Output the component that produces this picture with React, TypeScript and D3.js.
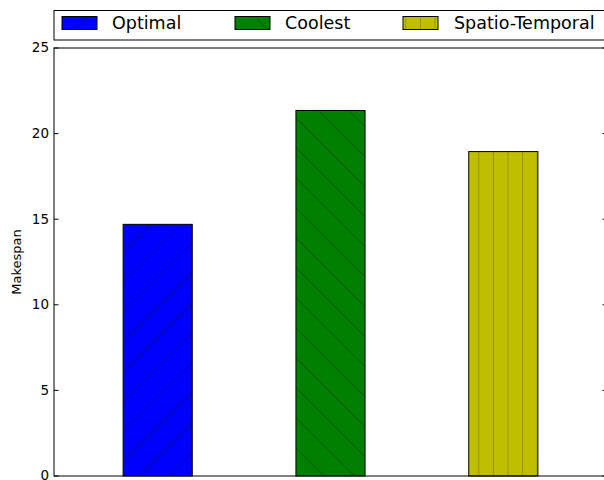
import React from "react";
import * as d3 from "d3";

const categories = ["Optimal", "Coolest", "Spatio-Temporal"];
const values = [14.7, 21.35, 18.95];
const colors = ["#0000ff", "#008000", "#bfbf00"];
const hatches = ["slash", "backslash", "vert"];
const yTicks = [0, 5, 10, 15, 20, 25];

const W = 604;
const H = 480;
const left = 54;
const right = 607;
const top = 48;
const bottom = 476;

export default function App() {
  const x = d3.scaleLinear().domain([-0.6, 2.6]).range([left, right]);
  const y = d3.scaleLinear().domain([0, 25]).range([bottom, top]);
  const bw = 0.4;
  const font = "'DejaVu Sans', sans-serif";

  const legendItems = [
    { px: 62, tx: 112 },
    { px: 235, tx: 285 },
    { px: 403, tx: 454 },
  ];
  const hs = { stroke: "#000", strokeOpacity: 0.4, strokeWidth: 0.9 };

  return (
    <div style={{ position: "absolute", left: 0, top: 0 }}>
      <svg width={W} height={H} style={{ display: "block" }}>
        <defs>
          <pattern id="slash" patternUnits="userSpaceOnUse" width={30} height={30}>
            <line x1={-2} y1={17} x2={17} y2={-2} {...hs} />
            <line x1={13} y1={32} x2={32} y2={13} {...hs} />
          </pattern>
          <pattern id="backslash" patternUnits="userSpaceOnUse" width={30} height={30}>
            <line x1={26.3} y1={-2} x2={32} y2={3.7} {...hs} />
            <line x1={-2} y1={-0.3} x2={32} y2={33.7} {...hs} />
          </pattern>
          <pattern id="vert" patternUnits="userSpaceOnUse" width={14.6} height={30} x={11.1}>
            <line x1={0} y1={0} x2={0} y2={30} stroke="#000" strokeOpacity={0.3} strokeWidth={1.4} />
          </pattern>
        </defs>

        {/* bars */}
        {values.map((v, i) => {
          const x0 = x(i - bw / 2);
          const x1 = x(i + bw / 2);
          return (
            <g key={i}>
              <rect x={x0} y={y(v)} width={x1 - x0} height={y(0) - y(v)} fill={colors[i]} />
              <rect x={x0} y={y(v)} width={x1 - x0} height={y(0) - y(v)} fill={`url(#${hatches[i]})`} stroke="#000" strokeWidth={1} />
            </g>
          );
        })}

        {/* axes frame */}
        <rect x={left} y={top} width={right - left} height={bottom - top} fill="none" stroke="#000" strokeWidth={1} />

        {/* y ticks */}
        {yTicks.map((t) => (
          <g key={t}>
            <line x1={left} x2={left + 4.5} y1={y(t)} y2={y(t)} stroke="#000" />
            <line x1={right - 4.5} x2={right} y1={y(t)} y2={y(t)} stroke="#000" />
            <text x={left - 5} y={y(t)} dy="0.33em" textAnchor="end" fontSize={13.5} fontFamily={font}>
              {t}
            </text>
          </g>
        ))}

        <text
          transform={`translate(21,${(top + bottom) / 2}) rotate(-90)`}
          textAnchor="middle"
          fontSize={13}
          fontFamily={font}
        >
          Makespan
        </text>

        {/* legend */}
        <rect x={left} y={10.5} width={620 - left} height={29.5} fill="#fff" stroke="#000" strokeWidth={1} />
        {categories.map((c, i) => (
          <g key={c}>
            <rect x={legendItems[i].px} y={16.5} width={35} height={13} fill={colors[i]} />
            <rect x={legendItems[i].px} y={16.5} width={35} height={13} fill={`url(#${hatches[i]})`} stroke="#000" strokeWidth={1} />
            <text x={legendItems[i].tx} y={23} dy="0.35em" fontSize={17.5} fontFamily={font}>
              {c}
            </text>
          </g>
        ))}
      </svg>
    </div>
  );
}
